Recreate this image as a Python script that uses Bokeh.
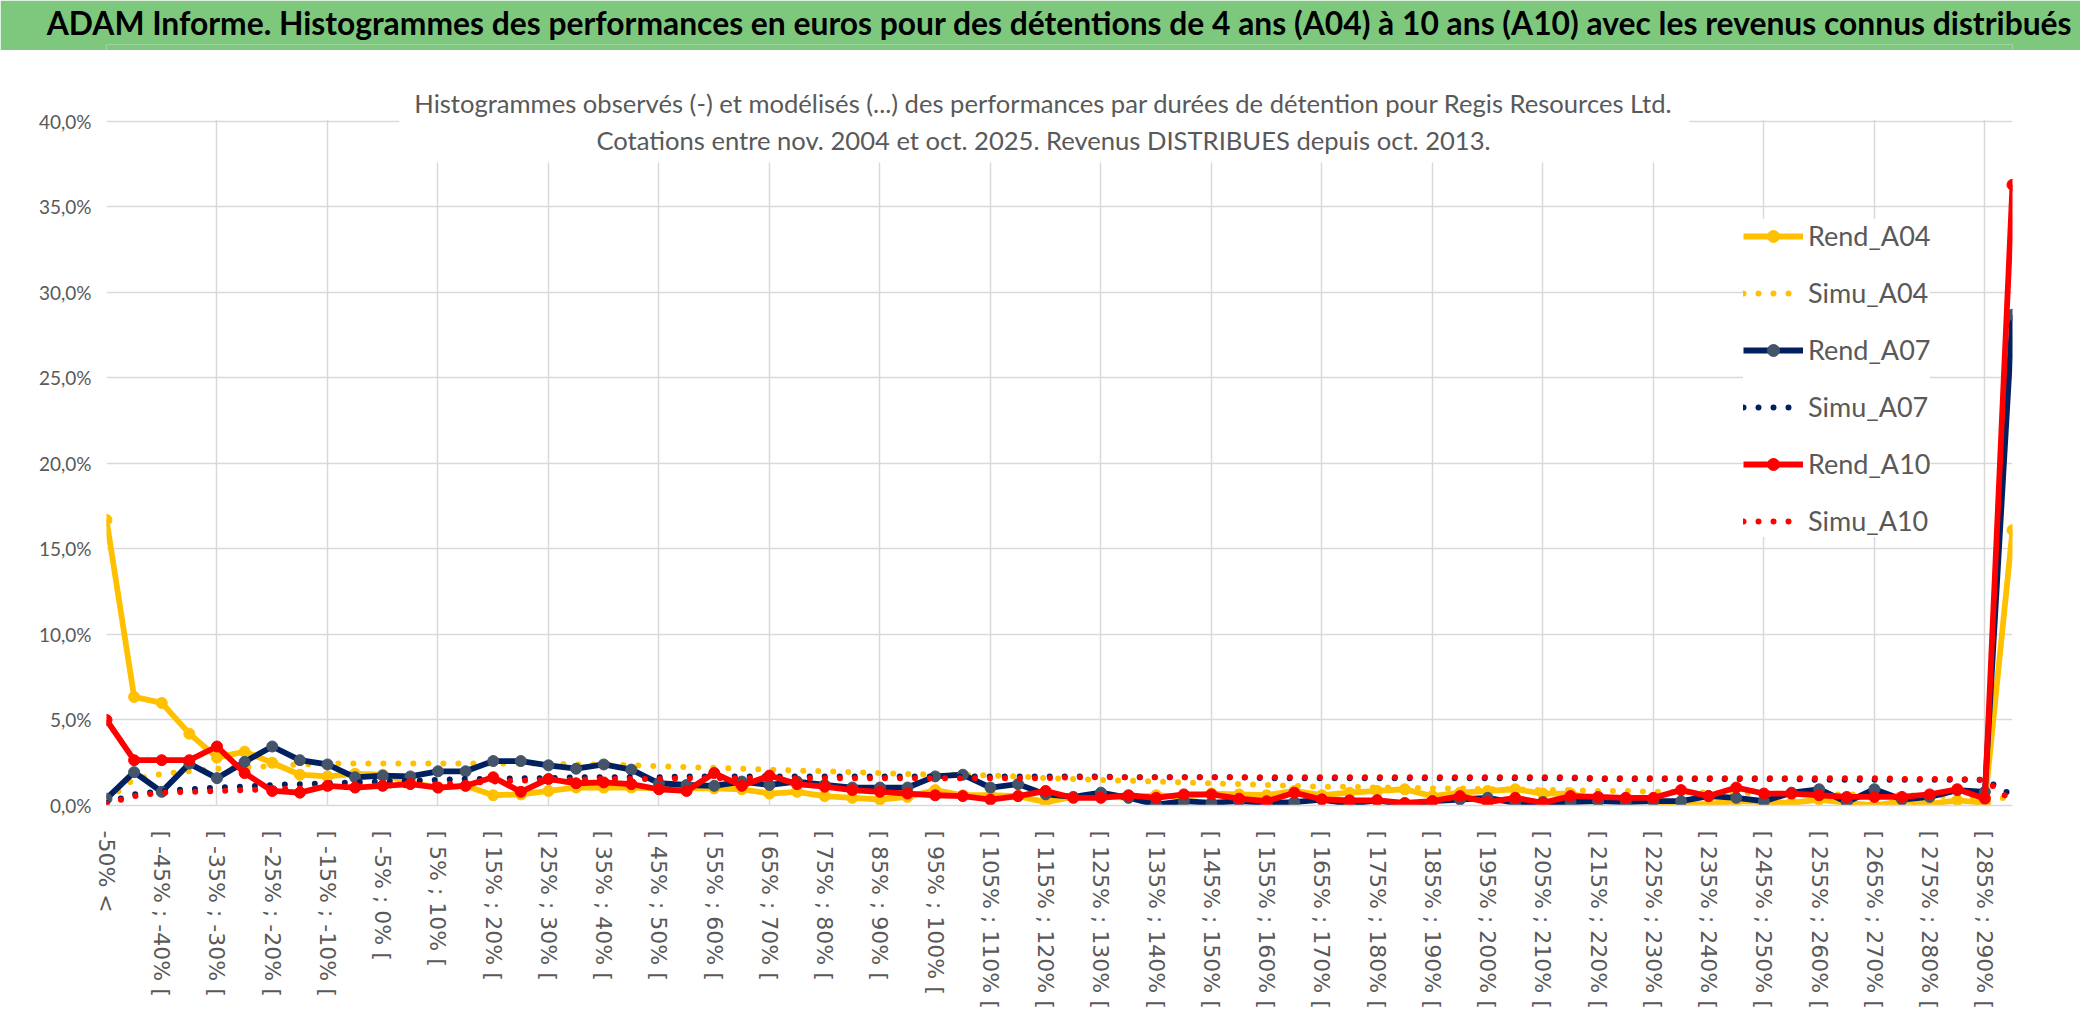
from bokeh.plotting import figure
from bokeh.models import Range1d, FixedTicker, Label, BoxAnnotation, Title
from bokeh.layouts import column
from bokeh.embed import file_html
from bokeh.resources import INLINE

title_text = ("ADAM Informe. Histogrammes des performances en euros pour des détentions "
              "de 4 ans (A04) à 10 ans (A10) avec les revenus connus distribués")
subtitle_1 = ("Histogrammes observés (-) et modélisés (...) des performances par durées "
              "de détention pour Regis Resources Ltd.")
subtitle_2 = "Cotations entre nov. 2004 et oct. 2025. Revenus DISTRIBUES depuis oct. 2013."

categories = [
    "-50% <", "[ -50% ; -45% [", "[ -45% ; -40% [", "[ -40% ; -35% [", "[ -35% ; -30% [",
    "[ -30% ; -25% [", "[ -25% ; -20% [", "[ -20% ; -15% [", "[ -15% ; -10% [", "[ -10% ; -5% [",
    "[ -5% ; 0% [", "[ 0% ; 5% [", "[ 5% ; 10% [", "[ 10% ; 15% [", "[ 15% ; 20% [",
    "[ 20% ; 25% [", "[ 25% ; 30% [", "[ 30% ; 35% [", "[ 35% ; 40% [", "[ 40% ; 45% [",
    "[ 45% ; 50% [", "[ 50% ; 55% [", "[ 55% ; 60% [", "[ 60% ; 65% [", "[ 65% ; 70% [",
    "[ 70% ; 75% [", "[ 75% ; 80% [", "[ 80% ; 85% [", "[ 85% ; 90% [", "[ 90% ; 95% [",
    "[ 95% ; 100% [", "[ 100% ; 105% [", "[ 105% ; 110% [", "[ 110% ; 115% [", "[ 115% ; 120% [",
    "[ 120% ; 125% [", "[ 125% ; 130% [", "[ 130% ; 135% [", "[ 135% ; 140% [", "[ 140% ; 145% [",
    "[ 145% ; 150% [", "[ 150% ; 155% [", "[ 155% ; 160% [", "[ 160% ; 165% [", "[ 165% ; 170% [",
    "[ 170% ; 175% [", "[ 175% ; 180% [", "[ 180% ; 185% [", "[ 185% ; 190% [", "[ 190% ; 195% [",
    "[ 195% ; 200% [", "[ 200% ; 205% [", "[ 205% ; 210% [", "[ 210% ; 215% [", "[ 215% ; 220% [",
    "[ 220% ; 225% [", "[ 225% ; 230% [", "[ 230% ; 235% [", "[ 235% ; 240% [", "[ 240% ; 245% [",
    "[ 245% ; 250% [", "[ 250% ; 255% [", "[ 255% ; 260% [", "[ 260% ; 265% [", "[ 265% ; 270% [",
    "[ 270% ; 275% [", "[ 275% ; 280% [", "[ 280% ; 285% [", "[ 285% ; 290% [", "> 290%",
]

rend_a04 = [16.7, 6.35, 6.0, 4.2, 2.8, 3.15, 2.5, 1.8, 1.7, 1.85,
            1.8, 1.35, 1.05, 1.15, 0.6, 0.65, 0.85, 1.05, 1.05, 1.05,
            1.0, 1.0, 1.0, 0.95, 0.7, 0.8, 0.55, 0.45, 0.35, 0.5,
            0.9, 0.6, 0.6, 0.55, 0.2, 0.5, 0.55, 0.45, 0.6, 0.5,
            0.7, 0.65, 0.6, 0.85, 0.6, 0.75, 0.85, 0.95, 0.55, 0.75,
            0.85, 0.95, 0.7, 0.7, 0.3, 0.25, 0.25, 0.05, 0.1, 0.25,
            0.2, 0.15, 0.35, 0.15, 0.0, 0.25, 0.1, 0.3, 0.15, 16.1]

simu_a04 = [0.3, 1.55, 1.85, 2.0, 2.15, 2.25, 2.3, 2.4, 2.45, 2.45,
            2.45, 2.45, 2.45, 2.45, 2.45, 2.45, 2.45, 2.4, 2.4, 2.35,
            2.3, 2.25, 2.2, 2.15, 2.1, 2.05, 2.0, 1.95, 1.9, 1.85,
            1.8, 1.8, 1.75, 1.7, 1.6, 1.55, 1.5, 1.45, 1.4, 1.35,
            1.3, 1.25, 1.2, 1.15, 1.1, 1.1, 1.05, 1.05, 1.0, 1.0,
            0.95, 0.95, 0.9, 0.9, 0.85, 0.85, 0.8, 0.8, 0.75, 0.75,
            0.7, 0.7, 0.65, 0.65, 0.6, 0.6, 0.55, 0.55, 0.5, 0.4]

rend_a07 = [0.4, 1.95, 0.8, 2.45, 1.6, 2.55, 3.45, 2.65, 2.4, 1.65,
            1.75, 1.7, 2.0, 2.0, 2.6, 2.6, 2.35, 2.15, 2.4, 2.1,
            1.3, 1.2, 1.15, 1.4, 1.2, 1.4, 1.2, 1.05, 1.05, 1.05,
            1.7, 1.8, 1.05, 1.25, 0.65, 0.5, 0.75, 0.45, 0.05, 0.25,
            0.15, 0.25, 0.15, 0.2, 0.35, 0.1, 0.3, 0.05, 0.25, 0.35,
            0.45, 0.15, 0.2, 0.2, 0.25, 0.2, 0.25, 0.25, 0.55, 0.45,
            0.25, 0.75, 0.95, 0.2, 0.95, 0.35, 0.5, 0.9, 0.8, 28.7]

simu_a07 = [0.15, 0.65, 0.85, 0.95, 1.05, 1.1, 1.2, 1.25, 1.3, 1.35,
            1.4, 1.45, 1.5, 1.55, 1.55, 1.6, 1.6, 1.65, 1.65, 1.65,
            1.65, 1.7, 1.7, 1.7, 1.7, 1.7, 1.7, 1.7, 1.7, 1.7,
            1.7, 1.7, 1.7, 1.7, 1.7, 1.7, 1.7, 1.65, 1.65, 1.65,
            1.65, 1.65, 1.6, 1.6, 1.6, 1.6, 1.6, 1.6, 1.6, 1.6,
            1.6, 1.6, 1.6, 1.6, 1.55, 1.55, 1.55, 1.55, 1.55, 1.55,
            1.55, 1.55, 1.5, 1.5, 1.5, 1.5, 1.5, 1.5, 1.5, 0.6]

rend_a10 = [5.0, 2.65, 2.65, 2.65, 3.45, 1.9, 0.85, 0.75, 1.15, 1.05,
            1.15, 1.25, 1.05, 1.15, 1.65, 0.8, 1.55, 1.3, 1.35, 1.25,
            0.95, 0.85, 1.9, 1.15, 1.75, 1.25, 1.1, 0.9, 0.8, 0.7,
            0.6, 0.55, 0.35, 0.55, 0.85, 0.45, 0.45, 0.6, 0.45, 0.65,
            0.65, 0.4, 0.25, 0.75, 0.35, 0.3, 0.3, 0.15, 0.25, 0.55,
            0.2, 0.45, 0.15, 0.55, 0.5, 0.45, 0.45, 0.9, 0.55, 1.05,
            0.7, 0.7, 0.6, 0.5, 0.5, 0.5, 0.65, 0.95, 0.4, 36.3]

simu_a10 = [0.1, 0.55, 0.75, 0.8, 0.85, 0.9, 0.95, 1.0, 1.05, 1.1,
            1.15, 1.2, 1.25, 1.3, 1.4, 1.45, 1.5, 1.5, 1.55, 1.55,
            1.55, 1.6, 1.6, 1.6, 1.6, 1.6, 1.6, 1.6, 1.6, 1.6,
            1.6, 1.6, 1.6, 1.6, 1.6, 1.65, 1.65, 1.65, 1.65, 1.65,
            1.65, 1.65, 1.65, 1.65, 1.65, 1.65, 1.65, 1.65, 1.65, 1.65,
            1.65, 1.65, 1.65, 1.65, 1.6, 1.6, 1.6, 1.6, 1.6, 1.6,
            1.6, 1.6, 1.6, 1.6, 1.6, 1.55, 1.55, 1.55, 1.5, 0.25]

y_ticks = [0, 5, 10, 15, 20, 25, 30, 35, 40]
y_tick_labels = ["0,0%", "5,0%", "10,0%", "15,0%", "20,0%", "25,0%", "30,0%", "35,0%", "40,0%"]

YELLOW = "#FFC000"
NAVY = "#002060"
NAVY_MARK = "#44546A"
RED = "#FF0000"
GREY_TXT = "#595959"
GRID = "#d9d9d9"
GREEN = "#7ec87e"

n = len(categories)
xs = list(range(n))

# ---------------- header bar ----------------
h = figure(width=2080, height=50, x_range=Range1d(0, 1), y_range=Range1d(0, 1),
           toolbar_location=None, output_backend="svg", min_border=0,
           x_axis_type=None, y_axis_type=None)
h.grid.visible = False
h.background_fill_color = GREEN
h.border_fill_color = GREEN
h.outline_line_color = None
h.add_layout(Title(text=title_text, align="center", vertical_align="middle",
                   text_font="Lato", text_font_style="bold", text_font_size="31.8px",
                   text_color="black", standoff=4), "above")

# ---------------- main chart ----------------
p = figure(width=2080, height=980, x_range=Range1d(0, n - 1), y_range=Range1d(0, 42.63),
           toolbar_location=None, output_backend="svg",
           min_border_left=106, min_border_right=68, min_border_top=26, min_border_bottom=225)
p.outline_line_color = None
p.background_fill_color = "white"
p.border_fill_color = "white"

p.xaxis.ticker = FixedTicker(ticks=list(range(0, n, 2)))
p.xaxis.major_label_overrides = {i: categories[i] for i in range(0, n, 2)}
p.xaxis.major_label_orientation = "vertical"
p.xaxis.major_label_text_font = "DejaVu Sans"
p.xaxis.major_label_text_font_size = "22px"
p.xaxis.major_label_text_color = GREY_TXT
p.xaxis.major_label_standoff = 25
p.xaxis.major_tick_out = 0
p.xaxis.major_tick_in = 0
p.xaxis.axis_line_color = GRID
p.xaxis.axis_line_width = 1.5
p.xaxis.major_tick_line_color = None
p.xaxis.minor_tick_line_color = None

p.yaxis.ticker = FixedTicker(ticks=y_ticks)
p.yaxis.major_label_overrides = {t: lab for t, lab in zip(y_ticks, y_tick_labels)}
p.yaxis.major_label_text_font = "Lato"
p.yaxis.major_label_text_font_size = "19px"
p.yaxis.major_label_text_color = GREY_TXT
p.yaxis.major_label_standoff = 15
p.yaxis.major_tick_out = 0
p.yaxis.major_tick_in = 0
p.yaxis.axis_line_color = None
p.yaxis.major_tick_line_color = None
p.yaxis.minor_tick_line_color = None

p.xgrid.ticker = FixedTicker(ticks=list(range(0, n, 4)))
p.xgrid.grid_line_color = GRID
p.xgrid.grid_line_width = 1.5
p.ygrid.grid_line_color = GRID
p.ygrid.grid_line_width = 1.5

# blank band above the 40 % line and white box behind the chart subtitle
p.add_layout(BoxAnnotation(bottom=40.1, fill_color="white", fill_alpha=1.0, line_color=None))
p.add_layout(BoxAnnotation(left=10.6, right=57.3, bottom=37.6,
                           fill_color="white", fill_alpha=1.0, line_color=None))
p.add_layout(Label(x=33.92, y=41.1, text=subtitle_1, text_align="center", text_baseline="middle",
                   text_font="Lato", text_font_size="25.6px", text_color=GREY_TXT))
p.add_layout(Label(x=33.92, y=38.9, text=subtitle_2, text_align="center", text_baseline="middle",
                   text_font="Lato", text_font_size="25.6px", text_color=GREY_TXT))

series = [
    ("Rend_A04", rend_a04, YELLOW, YELLOW, False),
    ("Simu_A04", simu_a04, YELLOW, None, True),
    ("Rend_A07", rend_a07, NAVY, NAVY_MARK, False),
    ("Simu_A07", simu_a07, NAVY, None, True),
    ("Rend_A10", rend_a10, RED, RED, False),
    ("Simu_A10", simu_a10, RED, None, True),
]
for name, vals, col, mcol, dotted in series:
    if dotted:
        p.line(xs, vals, line_color=col, line_width=6, line_dash="0 15", line_cap="round",
               legend_label=name)
    else:
        p.line(xs, vals, line_color=col, line_width=5.8, line_join="round", legend_label=name)
        p.scatter(xs, vals, size=11, fill_color=mcol, line_color=mcol, legend_label=name)

lg = p.legend[0]
lg.location = (1637, 268)
lg.background_fill_color = "white"
lg.background_fill_alpha = 1.0
lg.border_line_color = None
lg.padding = 12
lg.margin = 0
lg.spacing = 24
lg.glyph_width = 60
lg.glyph_height = 30
lg.label_height = 30
lg.label_standoff = 5
lg.label_text_font = "Lato"
lg.label_text_font_size = "27px"
lg.label_text_color = GREY_TXT

layout = column(h, p, spacing=0)
open("out.html", "w").write(file_html(layout, INLINE))
